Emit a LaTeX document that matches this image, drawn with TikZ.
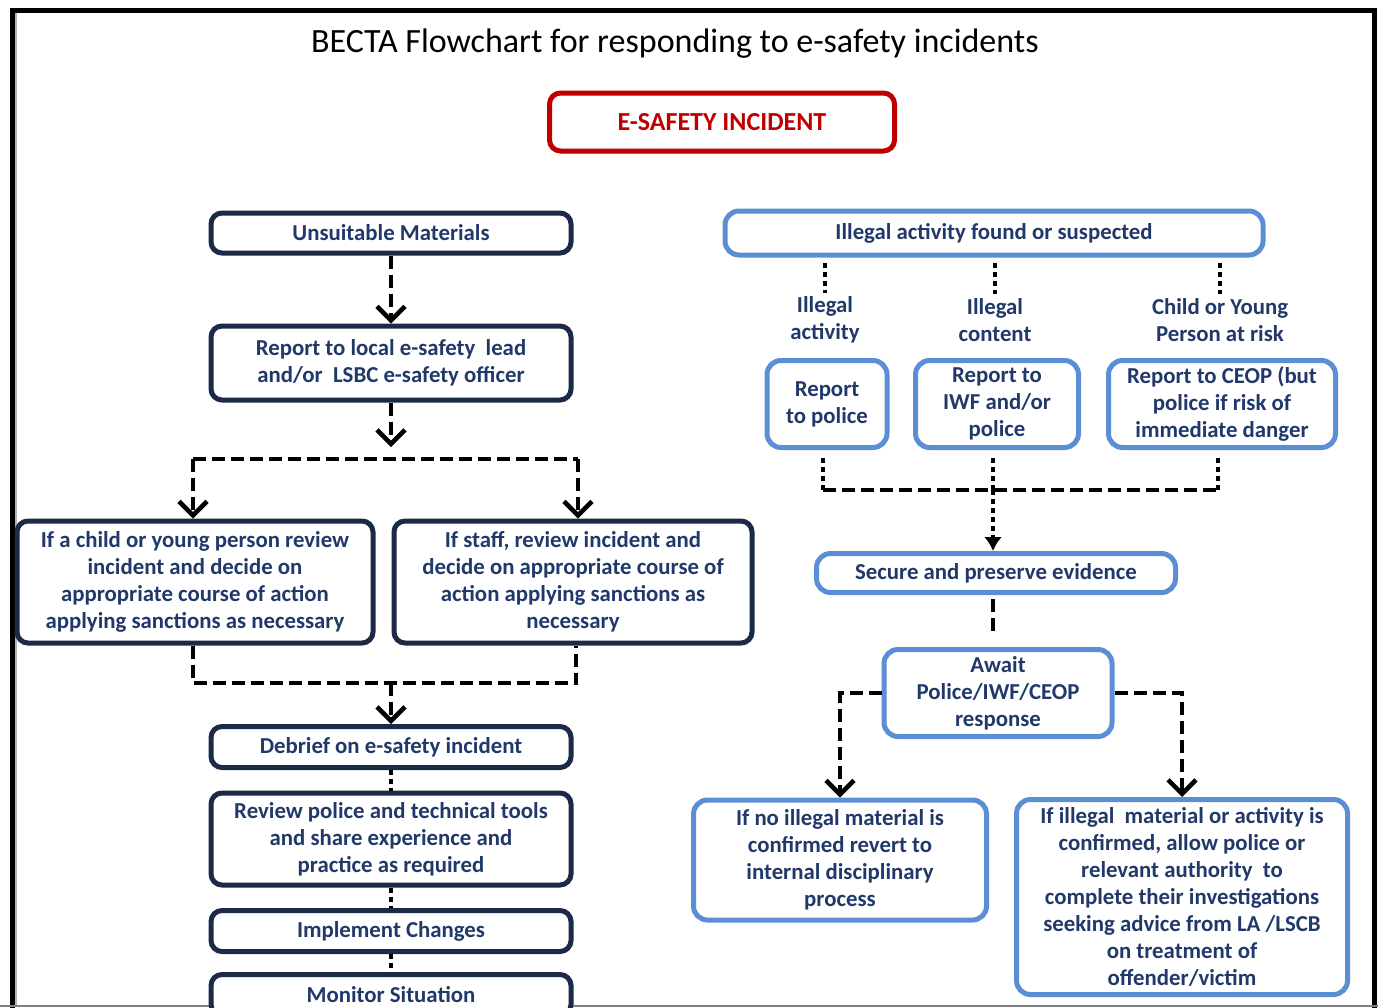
\documentclass[tikz,border=0pt]{standalone}
\usepackage{fontspec}
\setmainfont{Carlito}
\usetikzlibrary{arrows.meta}
\definecolor{navyline}{HTML}{1B2A47}
\definecolor{navytext}{HTML}{21396A}
\definecolor{boxblue}{HTML}{5B8ED5}
\definecolor{alertred}{HTML}{C00000}
\begin{document}
\begin{tikzpicture}[x=1pt, y=-1pt,
  boxtext/.style={text=navytext, font=\fontsize{22.8}{27}\selectfont\bfseries, align=center, inner sep=0pt},
  navybox/.style={boxtext, draw=navyline, line width=5pt, rounded corners=11pt, fill=white},
  bluebox/.style={boxtext, draw=boxblue, line width=5pt, rounded corners=14pt, fill=white},
  dashline/.style={line width=4.5pt, dash pattern=on 13pt off 6pt},
  dotline/.style={line width=4.5pt, dash pattern=on 5pt off 4pt},
  barb/.style={-{Straight Barb[length=14pt, width=28pt, line width=4.5pt]}},
  tri/.style={-{Latex[length=14pt, width=18pt]}}]
\useasboundingbox (0,0) rectangle (1378,1007);
\clip (0,0) rectangle (1378,1007);
\fill[white] (0,0) rectangle (1378,1007);
\draw[line width=5pt] (12,1030) -- (12,10) -- (1374,10) -- (1374,1030);
\draw[gray!60, line width=2pt] (16,13) -- (16,1007);
\draw[gray, line width=2pt] (0,1006) -- (1378,1006);

\node[font=\fontsize{34}{40}\selectfont] (title) at (675,44) {BECTA Flowchart for responding to e-safety incidents};
\node[draw=alertred, line width=5pt, rounded corners=11pt, text=alertred, font=\fontsize{26}{30}\selectfont\bfseries,
  minimum width=345pt, minimum height=58pt] (incident) at (722,122) {E-SAFETY INCIDENT};

% unsuitable materials
\node[navybox, minimum width=360pt, minimum height=40pt] (unsuit) at (391,233) {Unsuitable Materials};
\node[navybox, minimum width=360pt, minimum height=74pt] (report) at (391,363) {Report to local e-safety\ \ lead\\and/or\ \ LSBC e-safety officer};
\node[navybox, minimum width=356pt, minimum height=122pt] (child) at (195,582) {If a child or young person review\\incident and decide on\\appropriate course of action\\applying sanctions as necessary};
\node[navybox, minimum width=358pt, minimum height=122pt] (staff) at (573,582) {If staff, review incident and\\decide on appropriate course of\\action applying sanctions as\\necessary};
\node[navybox, minimum width=360pt, minimum height=41pt] (debrief) at (391,747) {Debrief on e-safety incident};
\node[navybox, minimum width=360pt, minimum height=92pt] (review) at (391,839) {Review police and technical tools\\and share experience and\\practice as required};
\node[navybox, minimum width=360pt, minimum height=41pt] (implement) at (391,931) {Implement Changes};
\node[navybox, minimum width=360pt, minimum height=41pt] (monitor) at (391,995) {Monitor Situation};

\coordinate (fork) at (391,447);
\coordinate (splitL) at (193,459);
\coordinate (splitR) at (578,459);
\coordinate (joinL) at (193,683);
\coordinate (joinR) at (576,683);
\coordinate (joinM) at (391,683);
\draw[dashline, barb] (unsuit) -- (report);
\draw[dashline, barb] (report) -- (fork);
\draw[dashline] (splitL) -- (splitR);
\draw[dashline, barb] (splitL) -- (splitL |- child.north);
\draw[dashline, barb] (splitR) -- (splitR |- staff.north);
\draw[dashline] (joinL |- child.south) -- (joinL) -- (joinR) -- (joinR |- staff.south);
\draw[dashline, barb] (joinM) -- (debrief);
\draw[dotline] (debrief) -- (review);
\draw[dotline] (review) -- (implement);
\draw[dotline] (implement) -- (monitor);

% illegal activity
\node[bluebox, minimum width=538pt, minimum height=44pt] (illegal) at (994,233) {Illegal activity found or suspected};
\node[boxtext] (lab1) at (825,320) {Illegal\\activity};
\node[boxtext] (lab2) at (995,320) {Illegal\\content};
\node[boxtext] (lab3) at (1220,320) {Child or Young\\Person at risk};
\node[bluebox, minimum width=120pt, minimum height=87pt] (police) at (827,404) {Report\\to police};
\node[bluebox, minimum width=163pt, minimum height=87pt] (iwf) at (997,404) {Report to\\IWF and/or\\police};
\node[bluebox, minimum width=227pt, minimum height=87pt] (ceop) at (1222,404) {Report to CEOP (but\\police if risk of\\immediate danger};
\node[bluebox, minimum width=359pt, minimum height=39pt] (secure) at (996,573) {Secure and preserve evidence};
\node[bluebox, minimum width=228pt, minimum height=87pt] (await) at (998,693) {Await\\Police/IWF/CEOP\\response};
\node[bluebox, minimum width=293pt, minimum height=120pt] (noill) at (840,860) {If no illegal material is\\confirmed revert to\\internal disciplinary\\process};
\node[bluebox, minimum width=331pt, minimum height=195pt] (yesill) at (1182,897) {If illegal\ \ material or activity is\\confirmed, allow police or\\relevant authority\ \ to\\complete their investigations\\seeking advice from LA /LSCB\\on treatment of\\offender/victim};

\coordinate (gatherL) at (823,490);
\coordinate (gatherM) at (993,490);
\coordinate (gatherR) at (1218,490);
\foreach \n in {lab1, lab2, lab3}
  \draw[dotline, shorten <=5pt, shorten >=4pt] (illegal.south -| \n) -- (\n.north);
\foreach \n/\g in {police/gatherL, iwf/gatherM, ceop/gatherR}
  \draw[dotline, shorten <=8pt] (\g |- \n.south) -- (\g);
\draw[dashline] (gatherL) -- (gatherR);
\draw[dotline, tri] (gatherM) -- (gatherM |- secure.north);
\draw[dashline, shorten <=4pt, shorten >=12pt] (gatherM |- secure.south) -- (gatherM |- await.north);
\draw[dashline, barb] (await.west) -| (noill.north);
\draw[dashline, barb] (await.east) -| (yesill.north);
\end{tikzpicture}
\end{document}
